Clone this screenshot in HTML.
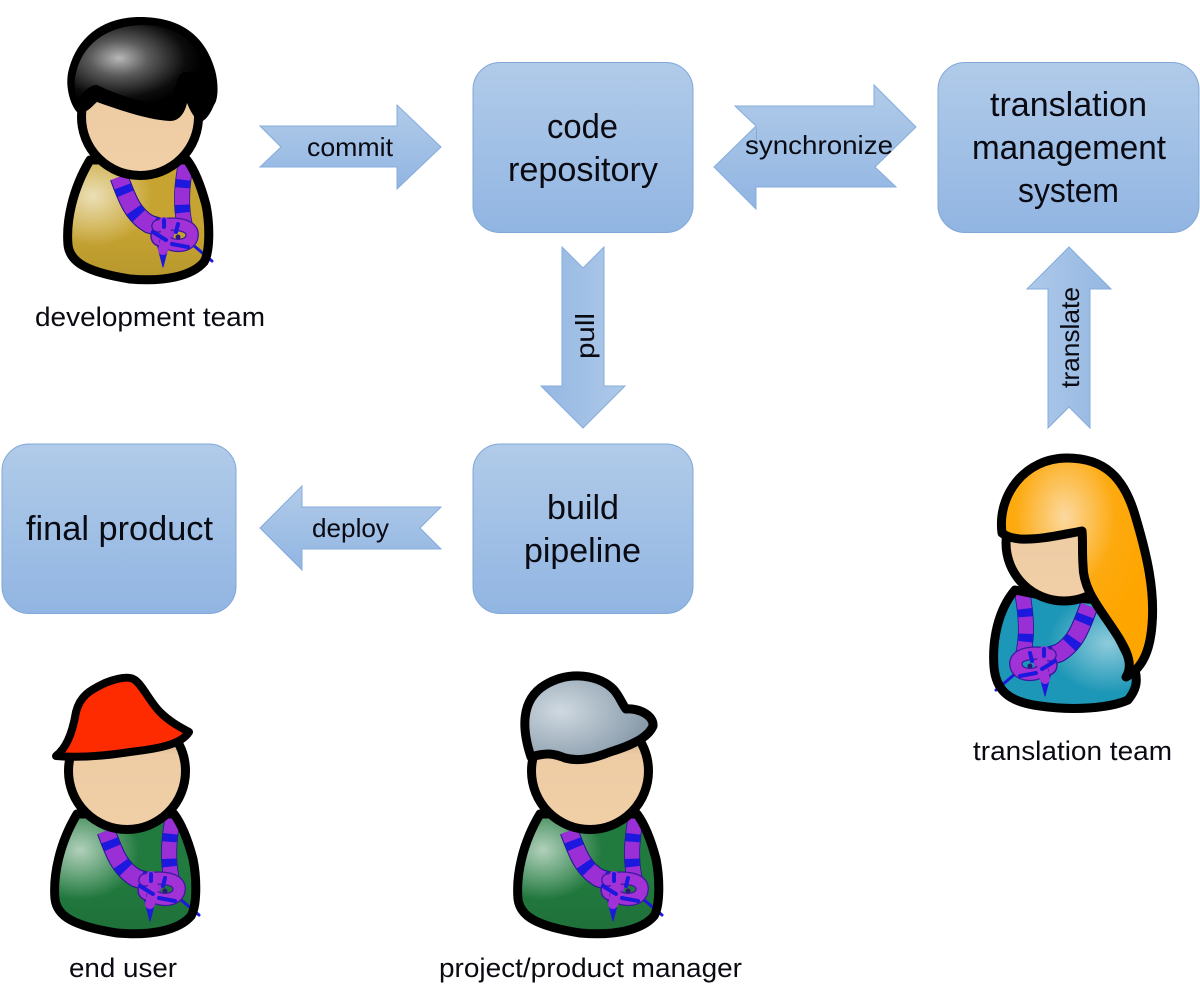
<!DOCTYPE html>
<html><head><meta charset="utf-8"><style>
html,body{margin:0;padding:0;background:#fff}
svg{display:block}
text{font-family:"Liberation Sans",sans-serif;fill:#0a0a12}
.b{font-size:34px}.s{font-size:26px}.m{font-size:27px}
</style></head><body>
<svg xmlns="http://www.w3.org/2000/svg" width="1200" height="1003" viewBox="0 0 1200 1003">
<defs>
<linearGradient id="g" x1="0" y1="0" x2="0" y2="1"><stop offset="0" stop-color="#b1cbe9"/><stop offset="1" stop-color="#91b5e2"/></linearGradient>
<linearGradient id="gl" x1="0" y1="0" x2="1" y2="0"><stop offset="0" stop-color="#aec9e9"/><stop offset="1" stop-color="#94b7e2"/></linearGradient>
<linearGradient id="gr" x1="1" y1="0" x2="0" y2="0"><stop offset="0" stop-color="#aec9e9"/><stop offset="1" stop-color="#94b7e2"/></linearGradient>
<linearGradient id="gu" x1="0" y1="1" x2="0" y2="0"><stop offset="0" stop-color="#aec9e9"/><stop offset="1" stop-color="#94b7e2"/></linearGradient>
<linearGradient id="face" x1="0" y1="0" x2="0" y2="1"><stop offset="0" stop-color="#9c846c"/><stop offset=".36" stop-color="#edcba4"/><stop offset="1" stop-color="#f1cfa6"/></linearGradient>
<radialGradient id="hl" cx=".18" cy=".3" r=".42"><stop offset="0" stop-color="#fff" stop-opacity=".65"/><stop offset="1" stop-color="#fff" stop-opacity="0"/></radialGradient>
<radialGradient id="hlr" cx=".8" cy=".45" r=".42"><stop offset="0" stop-color="#fff" stop-opacity=".5"/><stop offset="1" stop-color="#fff" stop-opacity="0"/></radialGradient>
<linearGradient id="dk" x1="0" y1="0" x2="0" y2="1"><stop offset=".55" stop-color="#000" stop-opacity="0"/><stop offset="1" stop-color="#000" stop-opacity=".08"/></linearGradient>
<radialGradient id="hair" cx=".33" cy=".42" r=".62"><stop offset="0" stop-color="#b8b8b8"/><stop offset=".35" stop-color="#5c5c5c"/><stop offset=".8" stop-color="#0c0c0c"/><stop offset="1" stop-color="#000"/></radialGradient>
<radialGradient id="blond" cx=".42" cy=".27" r=".55"><stop offset="0" stop-color="#fcd9a0"/><stop offset=".6" stop-color="#fdaa10"/><stop offset="1" stop-color="#fea500"/></radialGradient>
<radialGradient id="cap" cx=".28" cy=".42" r=".72"><stop offset="0" stop-color="#cfd9e0"/><stop offset="1" stop-color="#8497a8"/></radialGradient>
<path id="bp" d="M90,160 C72,190 66,222 68,245 C70,262 86,272 130,279 C165,282 192,276 204,262 C210,252 210,225 206,205 C202,190 196,172 187,160 Z"/>
<g id="scarf" fill="none" stroke-linecap="round" stroke-linejoin="round">
<path d="M119,177 C127,198 132,214 149,224 L175,232" stroke="#1a1790" stroke-width="19" stroke-linecap="butt"/>
<path d="M119,177 C127,198 132,214 149,224 L175,232" stroke="#9a2fd6" stroke-width="17" stroke-linecap="butt"/>
<path d="M119,177 C127,198 132,214 149,224 L175,232" stroke="#1c18de" stroke-width="17" stroke-dasharray="8 18" stroke-dashoffset="-10" stroke-linecap="butt"/>
<path d="M186,162 C182,185 180,205 185,226" stroke="#1a1790" stroke-width="16" stroke-linecap="butt"/>
<path d="M186,162 C182,185 180,205 185,226" stroke="#9a2fd6" stroke-width="14.500" stroke-linecap="butt"/>
<path d="M186,162 C182,185 180,205 185,226" stroke="#1c18de" stroke-width="14.500" stroke-dasharray="8 17" stroke-dashoffset="-18" stroke-linecap="butt"/>
<path d="M193,245 L212,261" stroke="#1c18de" stroke-width="3"/>
<path d="M156,240 L163,267 L170,240 Z" fill="#1c18de" stroke="#1c18de" stroke-width="1"/>
<ellipse cx="160" cy="236" rx="9" ry="10" fill="#a232d6" stroke="#3a1aa0" stroke-width="1.500"/>
<path d="M158,226 C172,222 194,224 192,236 C191,246 176,248 166,242" stroke="#3a1aa0" stroke-width="13.500"/>
<path d="M158,226 C172,222 194,224 192,236 C191,246 176,248 166,242" stroke="#a232d6" stroke-width="11"/>
<path d="M164,222 C167,230 166,240 163,250" stroke="#a232d6" stroke-width="10"/>
<path d="M164,220 L164,227 M178,224 L176,232 M172,244 L188,247 M153,232 L166,240" stroke="#1c18de" stroke-width="4"/>
<circle cx="178" cy="237" r="2.500" fill="#2a1a80" stroke="none"/>
</g>
<g id="person"><use href="#bp" fill="none"/></g>
</defs>

<!-- boxes -->
<g fill="url(#g)" stroke="#80a8d8" stroke-width="1">
<rect x="473" y="62.500" width="220" height="170" rx="27"/>
<rect x="938" y="62.500" width="261" height="170" rx="27"/>
<rect x="473" y="444" width="220" height="169.500" rx="27"/>
<rect x="2" y="444" width="234" height="169.500" rx="27"/>
</g>

<!-- arrows -->
<g stroke="#86acdb" stroke-width="1">
<polygon fill="url(#g)" points="260,126 397,126 397,105 441,147 397,189 397,167 260,167 281,147"/>
<polygon fill="url(#g)" points="735,106 874,106 874,85 916,127 875,167 896,187 756,187 756,209 714,167 756,126"/>
<polygon fill="url(#gr)" points="562,247 583,268 604,247 604,386 625,386 583,428 541,386 562,386"/>
<polygon fill="url(#gl)" points="1048,428 1048,289 1027,289 1069,247 1111,289 1090,289 1090,428 1069,407"/>
<polygon fill="url(#g)" points="441,507 420,528 441,549 302,549 302,570 260,528 302,486 302,507"/>
<path d="M756.500,127 V147" fill="none"/>
</g>

<!-- box labels -->
<text class="b" x="582.500" y="138" text-anchor="middle" textLength="71" lengthAdjust="spacingAndGlyphs">code</text>
<text class="b" x="583" y="181" text-anchor="middle" textLength="150" lengthAdjust="spacingAndGlyphs">repository</text>
<text class="b" x="1068.500" y="116" text-anchor="middle" textLength="157" lengthAdjust="spacingAndGlyphs">translation</text>
<text class="b" x="1069" y="159" text-anchor="middle" textLength="194" lengthAdjust="spacingAndGlyphs">management</text>
<text class="b" x="1068.500" y="202" text-anchor="middle" textLength="101" lengthAdjust="spacingAndGlyphs">system</text>
<text class="b" x="583" y="519" text-anchor="middle" textLength="72" lengthAdjust="spacingAndGlyphs">build</text>
<text class="b" x="582.500" y="562" text-anchor="middle" textLength="117" lengthAdjust="spacingAndGlyphs">pipeline</text>
<text class="b" x="119.500" y="540" text-anchor="middle" textLength="187" lengthAdjust="spacingAndGlyphs">final product</text>

<!-- arrow labels -->
<text class="s" x="350" y="156" text-anchor="middle" textLength="86" lengthAdjust="spacingAndGlyphs">commit</text>
<text class="s" x="819" y="154" text-anchor="middle" textLength="148" lengthAdjust="spacingAndGlyphs">synchronize</text>
<text class="s" x="350.500" y="537" text-anchor="middle" textLength="77" lengthAdjust="spacingAndGlyphs">deploy</text>
<text class="s" transform="translate(594,336) rotate(-90)" text-anchor="middle" textLength="46" lengthAdjust="spacingAndGlyphs">pull</text>
<text class="s" transform="translate(1079,337.500) rotate(-90)" text-anchor="middle" textLength="101" lengthAdjust="spacingAndGlyphs">translate</text>

<!-- person labels -->
<text class="m" x="150" y="326" text-anchor="middle" textLength="230" lengthAdjust="spacingAndGlyphs">development team</text>
<text class="m" x="1072.500" y="760" text-anchor="middle" textLength="199" lengthAdjust="spacingAndGlyphs">translation team</text>
<text class="m" x="123" y="977" text-anchor="middle" textLength="108" lengthAdjust="spacingAndGlyphs">end user</text>
<text class="m" x="590.500" y="977" text-anchor="middle" textLength="303" lengthAdjust="spacingAndGlyphs">project/product manager</text>

<!-- development team -->
<use href="#bp" fill="#c7a431"/><use href="#bp" fill="url(#hl)"/><use href="#bp" fill="url(#dk)"/>
<use href="#scarf"/>
<use href="#bp" fill="none" stroke="#000" stroke-width="9" stroke-linejoin="round"/>
<circle cx="140" cy="117" r="58.500" fill="url(#face)" stroke="#000" stroke-width="9"/>
<path d="M68,73 C75,40 100,17 140,17 C180,17 205,35 215,70 C219,85 218,100 214,105 C210,115 205,121 200,122 C193,117 190,110 187,103 C185,112 180,121 170,121 C150,120 125,112 97,102 C92,106 88,113 78,113 C72,108 65,90 68,73 Z" fill="#000"/>
<path d="M76,97 C70,70 85,28 140,25 C185,24 205,52 209,82 C203,74 196,68 188,72 C178,70 174,85 174,104 C150,106 120,96 97,85 C90,85 84,91 80,97 Z" fill="url(#hair)"/>

<!-- end user -->
<g transform="translate(-13,654)">
<use href="#bp" fill="#217a3e"/><use href="#bp" fill="url(#hl)"/><use href="#bp" fill="url(#dk)"/>
<use href="#scarf"/>
<use href="#bp" fill="none" stroke="#000" stroke-width="9" stroke-linejoin="round"/>
<circle cx="140" cy="117" r="58.500" fill="url(#face)" stroke="#000" stroke-width="9"/>
</g>
<path d="M56,756 C66,748 72,735 76,712 C80,696 90,690 105,683 C115,679 128,675 135,680 C143,686 150,702 160,712 C170,722 180,727 189,732 C182,743 165,748 130,752 C105,756 80,758 56,756 Z" fill="#fe2a00" stroke="#000" stroke-width="8" stroke-linejoin="round"/>

<!-- project manager -->
<g transform="translate(450,654)">
<use href="#bp" fill="#217a3e"/><use href="#bp" fill="url(#hl)"/><use href="#bp" fill="url(#dk)"/>
<use href="#scarf"/>
<use href="#bp" fill="none" stroke="#000" stroke-width="9" stroke-linejoin="round"/>
<circle cx="140" cy="117" r="58.500" fill="url(#face)" stroke="#000" stroke-width="9"/>
</g>
<path d="M531,757 C522,730 520,700 545,685 C570,670 600,675 614,690 C620,697 622,704 626,709 C640,708 654,716 653,726 C648,738 630,746 610,752 C595,758 580,762 565,758 C555,754 548,752 531,757 Z" fill="url(#cap)" stroke="#000" stroke-width="9" stroke-linejoin="round"/>

<!-- translation team -->
<path id="tb" d="M1015,590 C998,610 992,640 994,667 C996,690 1008,702 1040,706 C1075,711 1110,708 1128,700 C1136,690 1138,682 1135,670 L1100,600 L1040,595 Z" fill="#1d97b7"/>
<path d="M1015,590 C998,610 992,640 994,667 C996,690 1008,702 1040,706 C1075,711 1110,708 1128,700 C1136,690 1138,682 1135,670 L1100,600 L1040,595 Z" fill="url(#hlr)"/>
<g transform="matrix(-1 0 0 1 1208 429)"><use href="#scarf"/></g>
<path d="M1015,590 C998,610 992,640 994,667 C996,690 1008,702 1040,706 C1075,711 1110,708 1128,700 C1136,690 1138,682 1135,670 L1100,600 L1040,595 Z" fill="none" stroke="#000" stroke-width="9" stroke-linejoin="round"/>
<circle cx="1064" cy="543" r="58" fill="url(#face)" stroke="#000" stroke-width="9"/>
<path d="M1002,533 C997,495 1025,458 1067,458 C1105,458 1124,478 1135,515 C1147,555 1155,590 1152,625 C1150,650 1143,668 1126,677 C1136,662 1122,642 1107,620 C1093,600 1083,585 1083,565 C1082,550 1083,540 1082,531 C1060,535 1040,540 1020,539 C1012,538 1007,537 1002,533 Z" fill="url(#blond)" stroke="#000" stroke-width="9" stroke-linejoin="round"/>
</svg>
</body></html>
